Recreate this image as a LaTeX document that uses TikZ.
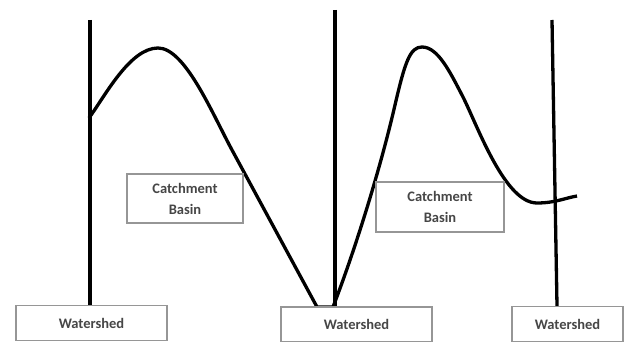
\documentclass[tikz,border=0pt]{standalone}
\usepackage{fontspec}
\setmainfont{Carlito}
\usetikzlibrary{positioning}
\definecolor{boxgray}{RGB}{150,150,150}
\definecolor{txtgray}{RGB}{70,70,70}

\begin{document}
\begin{tikzpicture}[
    x=1pt, y=-1pt,
    wsbox/.style={draw=boxgray, line width=1.3pt, fill=white, minimum height=35pt, inner sep=0pt,
      font=\fontsize{14.5}{17}\selectfont\bfseries, text=txtgray},
    basinbox/.style={draw=boxgray, line width=1.3pt, align=center, inner sep=0pt,
      font=\fontsize{14.5}{21}\selectfont\bfseries, text=txtgray},
    ridge/.style={line width=3.3pt, line join=round}
  ]
    \useasboundingbox (0,0) rectangle (634,342);
    % tops of the watershed lines
    \coordinate (top1) at (90,20);
    \coordinate (top2) at (335,10);
    \coordinate (top3) at (552,20);
    % the surface
    \draw[ridge] (89,118) .. controls (105,96) and (130,48) .. (158,48)
      .. controls (185,48) and (212,113) .. (232,150) -- (317,307) -- (333,307)
      .. controls (355,250) and (380,170) .. (395,105)
      .. controls (405,62) and (410,47) .. (422,47)
      .. controls (438,47) and (450,72) .. (463,97)
      .. controls (478,127) and (505,203) .. (537,203)
      .. controls (555,203) and (565,198) .. (577,196);
    \node[wsbox, minimum width=151pt] (ws1) at (91.5,323) {Watershed};
    \node[wsbox, minimum width=151pt] (ws2) at (356.5,324.5) {Watershed};
    \node[wsbox, minimum width=111pt] (ws3) at (567.5,324) {Watershed};
    \node[basinbox, minimum width=116pt, minimum height=49pt] (cb1) at (185,198.5) {Catchment\\Basin};
    \node[basinbox, minimum width=128pt, minimum height=50pt] (cb2) at (440,207) {Catchment\\Basin};
    \draw[ridge] (top1) -- (top1 |- ws1.north);
    \draw[ridge] (top2) -- (top2 |- ws2.north);
    \draw[ridge] (top3) -- ([xshift=-10.5pt]ws3.north);
  \end{tikzpicture}
\end{document}
